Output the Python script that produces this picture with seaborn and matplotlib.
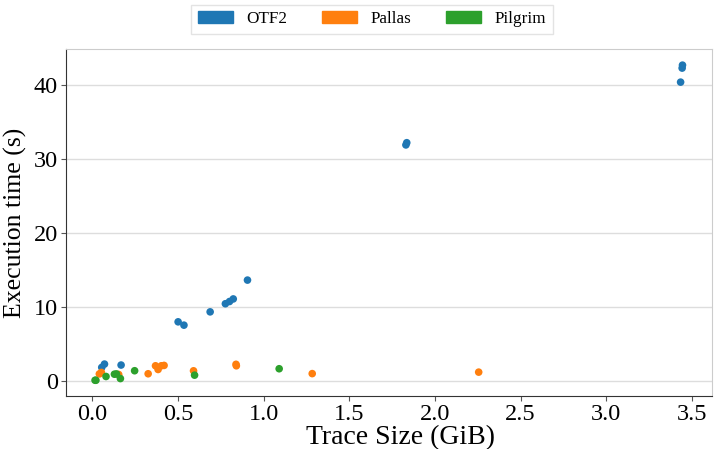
import matplotlib
matplotlib.use('Agg')
import matplotlib.pyplot as plt
from matplotlib.patches import Patch
import pandas as pd
import seaborn as sns

# dados (tamanho do trace em GiB, tempo em s)
otf2_size = [0.054, 0.070, 0.167, 0.50, 0.534, 0.687, 0.776, 0.80, 0.822, 0.905,
             1.83, 1.835, 3.434, 3.443, 3.445]
otf2_time = [1.78, 2.23, 2.1, 7.95, 7.5, 9.3, 10.4, 10.7, 11.05, 13.6,
             31.9, 32.2, 40.4, 42.3, 42.7]

pallas_size = [0.040, 0.052, 0.153, 0.325, 0.368, 0.383, 0.402, 0.418, 0.59,
               0.838, 0.840, 1.283, 2.255]
pallas_time = [0.9, 1.1, 0.82, 0.92, 2.0, 1.5, 2.0, 2.05, 1.32,
               2.2, 2.0, 0.94, 1.14]

pilgrim_size = [0.015, 0.02, 0.079, 0.128, 0.140, 0.163, 0.246, 0.596, 1.09]
pilgrim_time = [0.04, 0.04, 0.55, 0.86, 0.9, 0.27, 1.33, 0.73, 1.6]

formats = ['OTF2', 'Pallas', 'Pilgrim']

df = pd.concat([
    pd.DataFrame({'size': otf2_size, 'time': otf2_time, 'format': 'OTF2'}),
    pd.DataFrame({'size': pallas_size, 'time': pallas_time, 'format': 'Pallas'}),
    pd.DataFrame({'size': pilgrim_size, 'time': pilgrim_time, 'format': 'Pilgrim'}),
])

plt.rcParams['font.family'] = ['Liberation Serif', 'DejaVu Serif']

cores = sns.color_palette('tab10', 3)
fig, ax = plt.subplots(figsize=(7.14, 4.49), dpi=100)
sns.scatterplot(data=df, x='size', y='time', hue='format', hue_order=formats,
                palette=cores, s=30, linewidth=0, ax=ax, legend=False)

ax.yaxis.grid(True, color='#dddddd', linewidth=1)
ax.set_axisbelow(True)
for lado in ['top', 'right']:
    ax.spines[lado].set_color('#cccccc')
for lado in ['left', 'bottom']:
    ax.spines[lado].set_color('#333333')

ax.set_xlabel('Trace Size (GiB)', fontsize=20, labelpad=0)
ax.xaxis.set_label_coords(0.518, -0.085)
ax.set_ylabel('Execution time (s)', fontsize=18.5, labelpad=5)
ax.tick_params(labelsize=17.5, color='#555555', pad=2)
ax.set_xticks([0, 0.5, 1, 1.5, 2, 2.5, 3, 3.5])
ax.set_yticks([0, 10, 20, 30, 40])

handles = [Patch(color=c, label=f) for c, f in zip(cores, formats)]
ax.legend(handles=handles, loc='lower center', bbox_to_anchor=(0.474, 1.019), ncol=3,
          fontsize=12.3, frameon=True, handlelength=2.05, handleheight=0.7,
          columnspacing=2.0, handletextpad=0.82,
          fancybox=False, edgecolor='#dddddd')

fig.subplots_adjust(left=0.092, right=0.997, top=0.89, bottom=0.118)
fig.savefig('out.png', dpi=100)
